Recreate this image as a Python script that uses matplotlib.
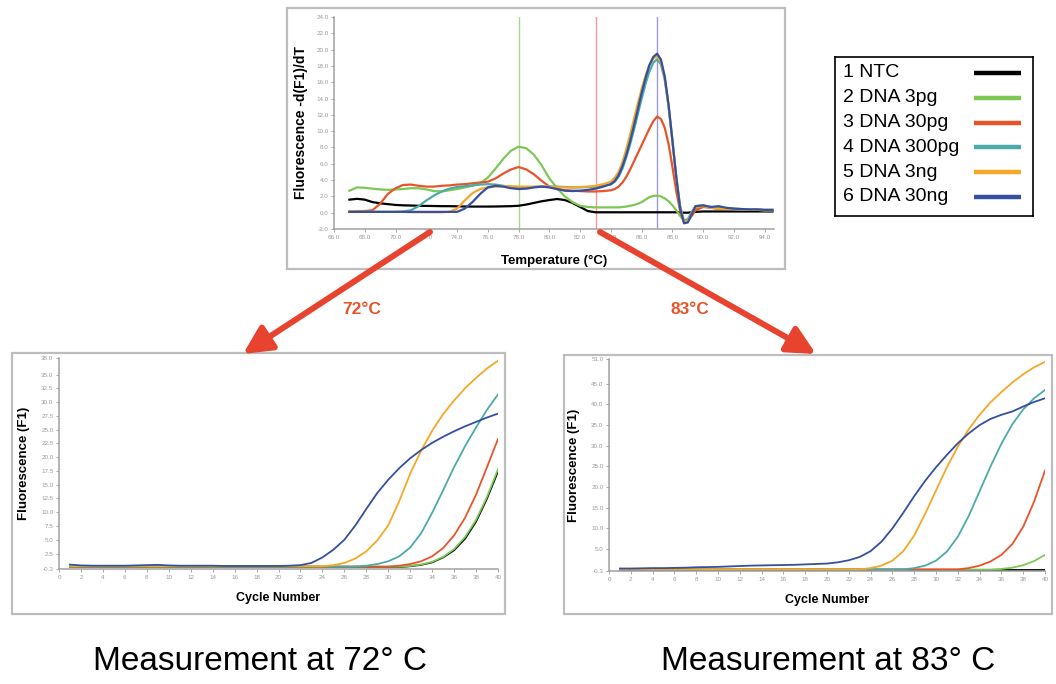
import numpy as np
import matplotlib
matplotlib.use("Agg")
import matplotlib.pyplot as plt
from matplotlib import font_manager
from matplotlib.patches import Rectangle, FancyArrowPatch

# ---------------------------------------------------------------- data
series_names = ["1 NTC", "2 DNA 3pg", "3 DNA 30pg", "4 DNA 300pg", "5 DNA 3ng", "6 DNA 30ng"]
series_colors = ["#000000", "#7dc855", "#e8542a", "#4aabaa", "#f5a828", "#34509f"]

# melt curve temperatures (degC)
melt_temp = np.concatenate([np.arange(67.0, 84.01, 0.5),
                            np.arange(84.25, 89.51, 0.25),
                            np.arange(90.0, 94.51, 0.5)])

melt_ntc = [1.6, 1.7, 1.6, 1.3, 1.15, 1.05, 0.95, 0.9, 0.88, 0.85, 0.83, 0.82, 0.8, 0.8,
            0.78, 0.76, 0.75, 0.75, 0.75, 0.76, 0.78, 0.8, 0.85, 1.0, 1.2, 1.4, 1.55, 1.68,
            1.55, 1.2, 0.7, 0.2, 0.05, 0.05, 0.05,
            0.05, 0.05, 0.05, 0.05, 0.05, 0.05, 0.05, 0.05, 0.05, 0.05, 0.05, 0.05, 0.05,
            0.05, 0.05, 0.05, 0.05, 0.05, 0.0, 0.0, 0.05, 0.1,
            0.15, 0.15, 0.15, 0.15, 0.15, 0.15, 0.15, 0.15, 0.15, 0.15]
melt_3pg = [2.7, 3.1, 3.05, 2.95, 2.85, 2.8, 2.85, 2.9, 3.0, 3.0, 2.85, 2.65, 2.6, 2.75,
            2.9, 3.1, 3.3, 3.6, 4.3, 5.4, 6.6, 7.6, 8.1, 7.9, 7.1, 5.8, 4.2, 3.0,
            2.0, 1.3, 0.85, 0.7, 0.65, 0.65, 0.65,
            0.65, 0.65, 0.7, 0.75, 0.85, 0.95, 1.1, 1.3, 1.6, 1.9, 2.05, 2.1, 2.0,
            1.75, 1.4, 0.9, 0.3, -0.4, -1.0, -0.9, -0.2, 0.5,
            0.8, 0.7, 0.6, 0.55, 0.5, 0.45, 0.4, 0.4, 0.35, 0.35]
melt_30pg = [0.15, 0.2, 0.2, 0.3, 1.1, 2.3, 3.0, 3.4, 3.45, 3.3, 3.2, 3.2, 3.3, 3.35,
             3.45, 3.5, 3.6, 3.7, 3.8, 4.2, 4.8, 5.3, 5.6, 5.3, 4.7, 3.9, 3.2, 2.9,
             2.75, 2.7, 2.65, 2.6, 2.6, 2.65, 2.75,
             2.9, 3.2, 3.7, 4.4, 5.3, 6.3, 7.3, 8.3, 9.3, 10.3, 11.2, 11.8, 11.5,
             10.4, 8.4, 5.6, 2.6, 0.2, -1.1, -1.0, -0.4, 0.3,
             0.7, 0.6, 0.5, 0.5, 0.45, 0.4, 0.35, 0.35, 0.3, 0.3]
melt_300pg = [0.1, 0.1, 0.1, 0.1, 0.1, 0.1, 0.1, 0.15, 0.3, 0.8, 1.5, 2.1, 2.6, 2.95,
              3.15, 3.25, 3.35, 3.45, 3.5, 3.45, 3.3, 3.15, 3.1, 3.1, 3.15, 3.2, 3.2, 3.2,
              3.15, 3.1, 3.1, 3.15, 3.2, 3.3, 3.5,
              3.8, 4.4, 5.4, 6.8, 8.4, 10.2, 12.1, 14.0, 15.8, 17.3, 18.4, 18.8, 18.2,
              16.3, 13.0, 8.8, 4.4, 0.8, -1.0, -0.8, 0.1, 0.8,
              0.9, 0.6, 0.5, 0.5, 0.45, 0.4, 0.35, 0.35, 0.3, 0.3]
melt_3ng = [0.2, 0.15, 0.1, 0.1, 0.1, 0.1, 0.1, 0.1, 0.05, 0.05, 0.05, 0.05, 0.05, 0.1,
            0.5, 1.5, 2.4, 2.9, 3.1, 3.2, 3.25, 3.25, 3.2, 3.2, 3.2, 3.2, 3.2, 3.15,
            3.1, 3.1, 3.15, 3.2, 3.3, 3.5, 3.8,
            4.3, 5.0, 6.2, 7.8, 9.6, 11.5, 13.4, 15.2, 16.8, 18.1, 18.9, 19.2, 18.5,
            16.5, 13.0, 8.6, 4.2, 0.6, -1.1, -1.0, -0.1, 0.7,
            0.8, 0.6, 0.5, 0.45, 0.45, 0.4, 0.35, 0.35, 0.3, 0.3]
melt_30ng = [0.1, 0.1, 0.1, 0.1, 0.1, 0.1, 0.1, 0.1, 0.1, 0.1, 0.1, 0.1, 0.1, 0.1,
             0.1, 0.5, 1.3, 2.3, 3.1, 3.3, 3.2, 3.0, 2.9, 2.95, 3.1, 3.2, 3.1, 2.9,
             2.7, 2.65, 2.7, 2.8, 2.95, 3.2, 3.5,
             3.9, 4.6, 5.7, 7.1, 8.8, 10.7, 12.7, 14.7, 16.5, 18.1, 19.1, 19.5, 18.8,
             16.7, 13.2, 8.8, 4.3, 0.5, -1.3, -1.2, -0.2, 0.8,
             0.9, 0.7, 0.8, 0.6, 0.5, 0.45, 0.4, 0.4, 0.35, 0.35]
melt_series = [melt_ntc, melt_3pg, melt_30pg, melt_300pg, melt_3ng, melt_30ng]

# acquisition temperatures marked on the melt curve
marker_temps = [78.0, 83.0, 87.0]
marker_colors = ["#a8d890", "#f29a9a", "#9c9cd8"]

# amplification curves
cycles = np.arange(1, 41)

amp72_ntc = [0.05] * 31 + [0.2, 0.45, 0.9, 1.8, 3.1, 5.2, 8.3, 12.5, 17.4]
amp72_3pg = [0.1] * 31 + [0.25, 0.5, 1.0, 1.9, 3.3, 5.5, 8.6, 12.8, 17.8]
amp72_30pg = [0.15] * 30 + [0.3, 0.6, 1.1, 2.0, 3.5, 5.8, 9.0, 13.2, 18.2, 23.3]
amp72_300pg = [0.15] * 27 + [0.3, 0.6, 1.1, 2.0, 3.6, 6.2, 9.9, 14.0, 18.2, 22.0, 25.4, 28.6, 31.4]
amp72_3ng = [0.2] * 24 + [0.4, 0.8, 1.6, 2.9, 4.9, 7.6, 12.0, 17.0, 21.2, 24.8, 27.8, 30.3,
                          32.5, 34.4, 36.1, 37.5]
amp72_30ng = [0.5, 0.35, 0.3, 0.3, 0.3, 0.3, 0.35, 0.4, 0.45, 0.35, 0.3, 0.3, 0.3, 0.3,
              0.25, 0.25, 0.25, 0.25, 0.25, 0.25, 0.3, 0.4, 0.8, 1.8, 3.2, 5.0, 7.6, 10.6,
              13.5, 15.9, 18.0, 19.8, 21.3, 22.6, 23.7, 24.7, 25.6, 26.4, 27.2, 27.9]
amp72_series = [amp72_ntc, amp72_3pg, amp72_30pg, amp72_300pg, amp72_3ng, amp72_30ng]

amp83_ntc = [0.05] * 40
amp83_3pg = [0.05] * 35 + [0.2, 0.5, 1.1, 2.1, 3.6]
amp83_30pg = [0.1] * 32 + [0.4, 1.0, 2.0, 3.6, 6.2, 10.4, 16.5, 24.0]
amp83_300pg = [0.1] * 27 + [0.4, 1.0, 2.2, 4.4, 8.0, 13.0, 19.0, 25.0, 30.5, 35.2, 38.8, 41.5, 43.5]
amp83_3ng = [0.1] * 23 + [0.4, 1.0, 2.2, 4.5, 8.3, 13.5, 19.2, 24.8, 29.8, 34.0, 37.5, 40.5,
                          43.0, 45.3, 47.3, 49.0, 50.3]
amp83_30ng = [0.3, 0.3, 0.35, 0.4, 0.4, 0.45, 0.5, 0.6, 0.65, 0.7, 0.8, 0.9, 1.0, 1.05,
              1.1, 1.15, 1.2, 1.3, 1.4, 1.5, 1.8, 2.3, 3.1, 4.5, 6.8, 10.0, 13.8, 17.8,
              21.5, 24.8, 27.8, 30.6, 33.0, 35.0, 36.5, 37.5, 38.3, 39.5, 40.6, 41.5]
amp83_series = [amp83_ntc, amp83_3pg, amp83_30pg, amp83_300pg, amp83_3ng, amp83_30ng]

melt_yticks = np.arange(-2.0, 24.1, 2.0)
melt_xticks = np.arange(66.0, 94.1, 2.0)
amp72_yticks = [-0.3, 2.5, 5.0, 7.5, 10.0, 12.5, 15.0, 17.5, 20.0, 22.5, 25.0, 27.5, 30.0, 32.5, 35.0, 38.0]
amp83_yticks = [-0.3, 5.0, 10.0, 15.0, 20.0, 25.0, 30.0, 35.0, 40.0, 45.0, 51.0]
cycle_ticks = np.arange(0, 41, 2)

# ---------------------------------------------------------------- fonts
installed = {f.name for f in font_manager.fontManager.ttflist}
narrow = "Liberation Sans Narrow" if "Liberation Sans Narrow" in installed else "Liberation Sans"
plt.rcParams["font.family"] = ["Liberation Sans", "DejaVu Sans"]

W, H = 1056, 684
fig = plt.figure(figsize=(W / 100, H / 100), dpi=100)


def px_box(x0, y0, x1, y1):
    """pixel box (top-left origin) -> figure fraction rect"""
    return [x0 / W, 1 - y1 / H, (x1 - x0) / W, (y1 - y0) / H]


def px_pt(x, y):
    return (x / W, 1 - y / H)


def panel(x0, y0, x1, y1):
    r = Rectangle(px_pt(x0, y1), (x1 - x0) / W, (y1 - y0) / H, transform=fig.transFigure,
                  fill=False, ec="#bdbdbd", lw=1.6)
    fig.add_artist(r)


def style(ax):
    for s in ["top", "right"]:
        ax.spines[s].set_visible(False)
    for s in ["left", "bottom"]:
        ax.spines[s].set_color("#a0a0a0")
        ax.spines[s].set_linewidth(1.1)
    ax.tick_params(length=2.5, width=0.6, colors="#9a9a9a", labelsize=4.5, pad=1.5)
    ax.set_facecolor("none")


# panel frames
panel(287, 8, 785, 269)
panel(12, 353, 505, 614)
panel(564, 355, 1052, 614)

# ---------------------------------------------------------------- melt curve
ax = fig.add_axes(px_box(334, 17, 774, 229))
style(ax)
for t, c in zip(marker_temps, marker_colors):
    ax.axvline(t, color=c, lw=1.0, zorder=1)
for vals, c in zip(melt_series, series_colors):
    ax.plot(melt_temp, vals, color=c, lw=1.6, zorder=2)
ax.set_xlim(66, 94.6)
ax.set_ylim(-2, 24)
ax.set_xticks(melt_xticks)
ax.set_xticklabels([f"{v:.1f}" for v in melt_xticks])
ax.set_yticks(melt_yticks)
ax.set_yticklabels([f"{v:.1f}" for v in melt_yticks])
ax.set_xlabel("Temperature (\u00b0C)", fontsize=9.5, fontweight="bold", family=narrow, labelpad=11)
ax.set_ylabel("Fluorescence -d(F1)/dT", fontsize=10, fontweight="bold", family=narrow, labelpad=6)

# ---------------------------------------------------------------- amplification panels
def amp_panel(rect, series, yticks, ymax):
    a = fig.add_axes(rect)
    style(a)
    for vals, c in zip(series, series_colors):
        a.plot(cycles, vals, color=c, lw=1.3)
    a.set_xlim(0, 40)
    a.set_ylim(-0.3, ymax)
    a.set_xticks(cycle_ticks)
    a.set_yticks(yticks)
    a.set_yticklabels([f"{v:.1f}" for v in yticks])
    a.set_xlabel("Cycle Number", fontsize=9, fontweight="bold", family=narrow, labelpad=9)
    a.set_ylabel("Fluorescence (F1)", fontsize=9.5, fontweight="bold", family=narrow, labelpad=8)
    return a


amp_panel(px_box(59, 358, 498, 569), amp72_series, amp72_yticks, 38.0)
amp_panel(px_box(609, 359, 1045, 571), amp83_series, amp83_yticks, 51.0)

# ---------------------------------------------------------------- legend
lax = fig.add_axes(px_box(835, 57, 1033, 216))
lax.set_xlim(0, 1)
lax.set_ylim(0, 1)
lax.set_xticks([])
lax.set_yticks([])
for s in lax.spines.values():
    s.set_color("black")
    s.set_linewidth(1.2)
row_y = np.linspace(0.9, 0.12, len(series_names))
for name, c, y in zip(series_names, series_colors, row_y):
    lax.text(0.04, y, name, fontsize=14, va="center", ha="left")
    lax.plot([0.7, 0.94], [y, y], color=c, lw=3.2, solid_capstyle="butt")

# ---------------------------------------------------------------- arrows
arrow_color = "#e8432e"
for start, end in [((430, 232), (243, 354)), ((600, 232), (816, 354))]:
    arr = FancyArrowPatch(px_pt(*start), px_pt(*end), transform=fig.transFigure,
                          arrowstyle="-|>,head_length=1.0,head_width=0.5",
                          mutation_scale=17, lw=4.3, color=arrow_color, shrinkA=0, shrinkB=0)
    fig.add_artist(arr)
fig.text(*px_pt(362, 310), "72\u00b0C", color="#e8542a", fontsize=12.5, fontweight="bold",
         ha="center", va="center")
fig.text(*px_pt(690, 310), "83\u00b0C", color="#e8542a", fontsize=12.5, fontweight="bold",
         ha="center", va="center")

# ---------------------------------------------------------------- captions
fig.text(*px_pt(260, 662), "Measurement at 72\u00b0 C", fontsize=24, ha="center", va="center",
         family=narrow)
fig.text(*px_pt(828, 662), "Measurement at 83\u00b0 C", fontsize=24, ha="center", va="center",
         family=narrow)

fig.savefig("out.png", dpi=100)
